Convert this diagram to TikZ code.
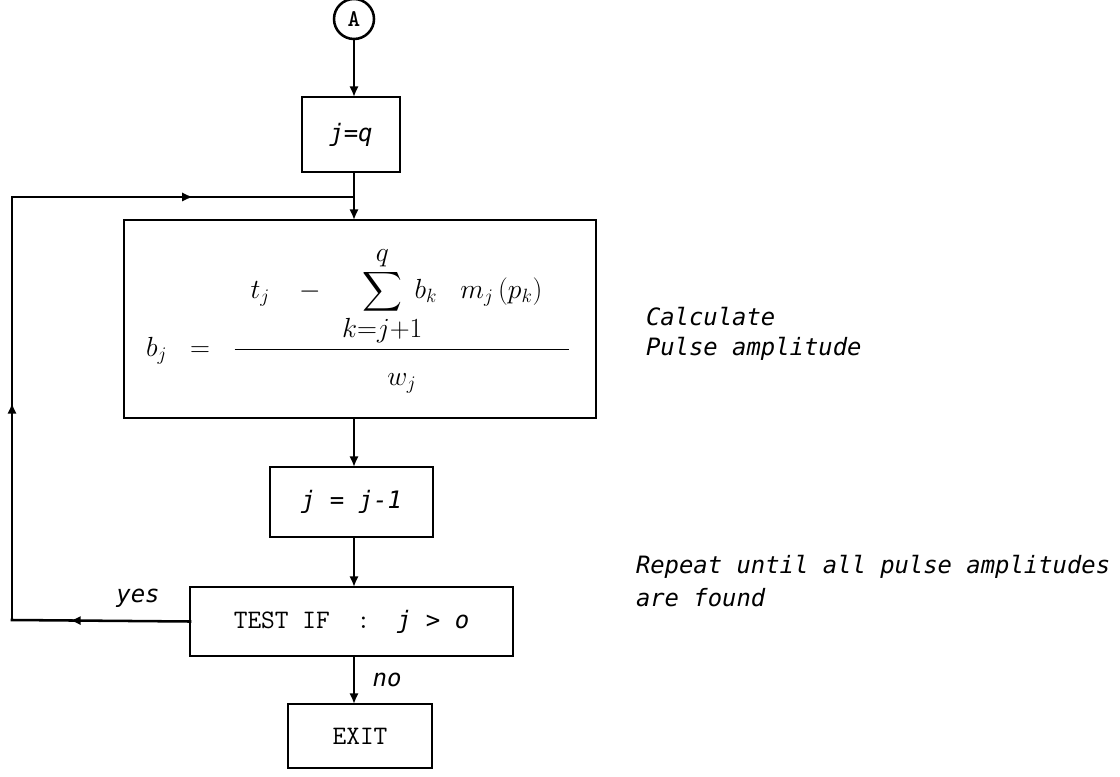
\documentclass[tikz,border=0pt]{standalone}
\usepackage{exscale}
\usepackage{fontspec}
\newfontfamily\plotbase{DejaVu Sans Mono}
\newcommand\plotit{\plotbase\itshape}
\usetikzlibrary{arrows.meta,decorations.markings}
\begin{document}
\begin{tikzpicture}[x=0.75pt,y=-0.75pt,
  every node/.style={inner sep=0pt, outer sep=0pt},
  boxst/.style={draw, line width=2.1pt, rectangle},
  conn/.style={line width=1.9pt, line cap=rect},
  arr/.style={conn, -{Latex[length=8pt,width=7pt]}},
  midarr/.style={conn, postaction={decorate}, decoration={markings,
      mark=at position #1 with {\arrow{Latex[length=8pt,width=7pt]}}}},
  note/.style={font=\plotit\fontsize{17.9}{22}\selectfont, anchor=west},
  small/.style={font=\plotit\fontsize{18}{22}\selectfont},
  mono/.style={font=\ttfamily\fontsize{20}{24}\selectfont}
]
\path[use as bounding box] (0,0) rectangle (1120,777);

% nodes
\node[draw, circle, line width=1.9pt, minimum size=30pt, font=\bfseries\ttfamily\fontsize{18}{20}\selectfont] (A) at (354,19) {A};
\node[boxst, minimum width=73.5pt, minimum height=56.25pt, small] (jq) at (351,134.5) {j=q};
\node[boxst, minimum width=354pt, minimum height=148.5pt] (big) at (360,319) {};
\node[font=\fontsize{20}{24}\selectfont, anchor=west] (eq) at (146,320) {$\displaystyle b_j\;\;=\;\;\frac{\hspace{12pt}\displaystyle t_j\;\;\;-\;\;\sum_{\textstyle k{=}j{+}1}^{\textstyle q\rule[-4pt]{0pt}{4pt}}\mkern-8mu b_k\;\;\; m_j\,(p_k)\hspace{20pt}}{\displaystyle \rule{0pt}{24pt}w_j}$};
\node[boxst, minimum width=122.25pt, minimum height=52.5pt, small] (jm) at (351.5,502) {j = j-1};
\node[boxst, minimum width=242.25pt, minimum height=51.75pt] (test) at (351.5,621.5) {\ttfamily\fontsize{20}{24}\selectfont TEST IF\quad:\quad{\plotit\fontsize{18}{22}\selectfont j > o}};
\node[boxst, minimum width=108pt, minimum height=48pt, mono] (exit) at (360,736) {EXIT};

% side notes
\node[note] (n1) at (646,317) {Calculate};
\node[note] (n2) at (646,349) {Pulse amplitude};
\node[note] (n3) at (636,567) {Repeat until all pulse amplitudes};
\node[note] (n4) at (636,598) {are found};

% connectors
\coordinate (top) at (352,197);
\coordinate (lt) at (12,197);
\coordinate (lb) at (12,620);
\draw[arr] (A) -- (A |- jq.north);
\draw[arr] (jq.south -| A) -- (A |- big.north);
\draw[arr] (A |- big.south) -- (A |- jm.north);
\draw[arr] (A |- jm.south) -- (A |- test.north);
\draw[arr] (A |- test.south) -- node[small, right=14pt, pos=0.5] (no) {no} (A |- exit.north);
\draw[midarr=0.674] (test.west) -- (lb);
\draw[midarr=0.513] (lb) -- (lt);
\draw[midarr=0.532] (lt) -- (top);
\node[small] (yes) at (138,598) {yes};
\end{tikzpicture}
\end{document}
